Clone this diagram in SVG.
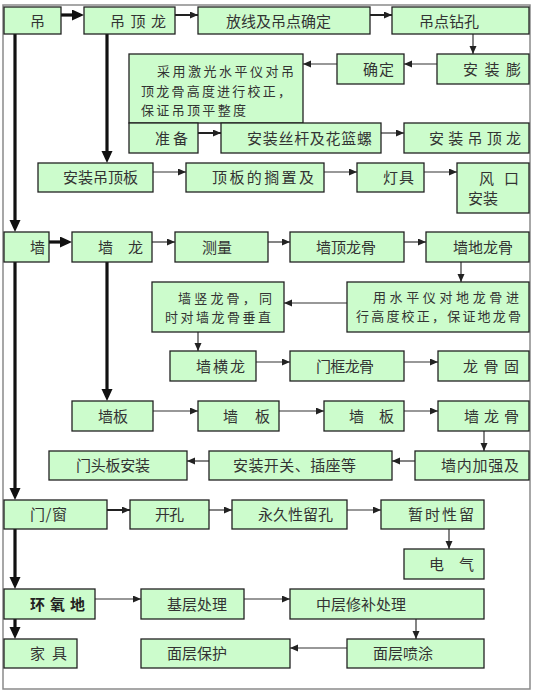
<svg xmlns="http://www.w3.org/2000/svg" width="536" height="695" viewBox="0 0 536 695">
<style>
.b{fill:#ccfccc;stroke:#222;stroke-width:1.3}
.t{font-family:"Noto Sans CJK SC","Noto Sans",sans-serif;font-size:15px;fill:#333}
.s{font-size:13px}
.bold{font-weight:bold;fill:#222}
.c{stroke:#333;stroke-width:1.2;fill:none;marker-end:url(#ah)}
.m{stroke:#222;stroke-width:2;fill:none;marker-end:url(#ah)}
.k{stroke:#111;stroke-width:3.2;fill:none;marker-end:url(#ak)}
</style>
<defs>
<marker id="ah" markerUnits="userSpaceOnUse" markerWidth="9" markerHeight="8" refX="8" refY="3.5" orient="auto"><path d="M0,0 L8,3.5 L0,7 z" fill="#222"/></marker>
<marker id="ak" markerUnits="userSpaceOnUse" markerWidth="13" markerHeight="12" refX="8" refY="5.5" orient="auto"><path d="M0,0 L12,5.5 L0,11 z" fill="#111"/></marker>
</defs>
<rect x="0" y="0" width="536" height="695" fill="#fff"/>
<rect x="3" y="5" width="527" height="684" fill="none" stroke="#8a8a8a" stroke-width="1.5"/>

<g id="connectors">
<line class="k" x1="15" y1="34" x2="15" y2="228"/>
<line class="k" x1="15" y1="262" x2="15" y2="496"/>
<line class="k" x1="15" y1="529" x2="15" y2="585"/>
<line class="k" x1="15" y1="619" x2="15" y2="635"/>
<line class="k" x1="61" y1="15" x2="80" y2="15"/>
<line class="k" x1="107" y1="34" x2="107" y2="159"/>
<line class="k" x1="49" y1="242" x2="68" y2="242"/>
<line class="k" x1="107" y1="262" x2="107" y2="397"/>
<line class="m" x1="175" y1="15" x2="198" y2="15"/>
<line class="m" x1="370" y1="15" x2="392" y2="15"/>
<line class="c" x1="473" y1="34" x2="473" y2="54"/>
<line class="c" x1="437" y1="64" x2="404" y2="64"/>
<line class="c" x1="337" y1="64" x2="303" y2="64"/>
<line class="c" x1="152" y1="105" x2="152" y2="123"/>
<line class="m" x1="198" y1="133" x2="221" y2="133"/>
<line class="c" x1="381" y1="133" x2="404" y2="133"/>
<line class="c" x1="153" y1="172" x2="186" y2="172"/>
<line class="c" x1="324" y1="172" x2="357" y2="172"/>
<line class="c" x1="424" y1="172" x2="457" y2="172"/>
<line class="c" x1="152" y1="242" x2="175" y2="242"/>
<line class="c" x1="268" y1="242" x2="290" y2="242"/>
<line class="c" x1="404" y1="242" x2="426" y2="242"/>
<line class="c" x1="461" y1="262" x2="461" y2="282"/>
<line class="c" x1="347" y1="303" x2="284" y2="303"/>
<line class="c" x1="198" y1="332" x2="198" y2="351"/>
<line class="c" x1="256" y1="362" x2="290" y2="362"/>
<line class="c" x1="404" y1="362" x2="438" y2="362"/>
<line class="c" x1="153" y1="411" x2="198" y2="411"/>
<line class="c" x1="279" y1="411" x2="324" y2="411"/>
<line class="c" x1="404" y1="411" x2="438" y2="411"/>
<line class="c" x1="484" y1="431" x2="484" y2="451"/>
<line class="c" x1="415" y1="461" x2="392" y2="461"/>
<line class="c" x1="209" y1="461" x2="187" y2="461"/>
<line class="m" x1="107" y1="510" x2="130" y2="510"/>
<line class="c" x1="209" y1="510" x2="232" y2="510"/>
<line class="c" x1="347" y1="510" x2="381" y2="510"/>
<line class="c" x1="449" y1="529" x2="449" y2="549"/>
<line class="c" x1="95" y1="599" x2="141" y2="599"/>
<line class="c" x1="244" y1="599" x2="290" y2="599"/>
<line class="c" x1="416" y1="619" x2="416" y2="639"/>
<line class="c" x1="347" y1="648" x2="290" y2="648"/>
</g>

<g id="n1"><rect class="b" x="4" y="7" width="57" height="27"/><text class="t" x="30" y="26.5">吊</text></g>
<g id="n2"><rect class="b" x="84" y="7" width="91" height="27"/><text class="t" x="110" y="26.5" textLength="56" lengthAdjust="spacing">吊顶龙</text></g>
<g id="n3"><rect class="b" x="198" y="7" width="172" height="27"/><text class="t" x="226" y="26.5" textLength="105" lengthAdjust="spacing">放线及吊点确定</text></g>
<g id="n4"><rect class="b" x="392" y="7" width="137" height="27"/><text class="t" x="419" y="26.5" textLength="60" lengthAdjust="spacing">吊点钻孔</text></g>
<g id="n5"><rect class="b" x="129" y="54" width="174" height="69"/>
<text class="t s" x="157" y="76" textLength="137" lengthAdjust="spacing">采用激光水平仪对吊</text>
<text class="t s" x="141" y="95.5" textLength="150" lengthAdjust="spacing">顶龙骨高度进行校正，</text>
<text class="t s" x="141" y="115" textLength="105" lengthAdjust="spacing">保证吊顶平整度</text></g>
<g id="n6"><rect class="b" x="337" y="54" width="67" height="30"/><text class="t" x="363" y="74.5" textLength="31" lengthAdjust="spacing">确定</text></g>
<g id="n7"><rect class="b" x="437" y="54" width="92" height="30"/><text class="t" x="463" y="74.5" textLength="58" lengthAdjust="spacing">安装膨</text></g>
<g id="n8"><rect class="b" x="129" y="123" width="69" height="30"/><text class="t" x="155" y="143.5" textLength="33" lengthAdjust="spacing">准备</text></g>
<g id="n9"><rect class="b" x="221" y="123" width="160" height="30"/><text class="t" x="247" y="143.5" textLength="125" lengthAdjust="spacing">安装丝杆及花篮螺</text></g>
<g id="n10"><rect class="b" x="404" y="123" width="125" height="30"/><text class="t" x="429" y="143.5" textLength="92" lengthAdjust="spacing">安装吊顶龙</text></g>
<g id="n11"><rect class="b" x="38" y="163" width="115" height="29"/><text class="t" x="63" y="182.5" textLength="75" lengthAdjust="spacing">安装吊顶板</text></g>
<g id="n12"><rect class="b" x="186" y="163" width="138" height="29"/><text class="t" x="212" y="182.5" textLength="102" lengthAdjust="spacing">顶板的搁置及</text></g>
<g id="n13"><rect class="b" x="357" y="163" width="67" height="29"/><text class="t" x="383" y="182.5" textLength="31" lengthAdjust="spacing">灯具</text></g>
<g id="n14"><rect class="b" x="457" y="163" width="72" height="50"/><text class="t" x="479" y="183.5" textLength="40" lengthAdjust="spacing">风口</text><text class="t" x="468" y="204" textLength="30" lengthAdjust="spacing">安装</text></g>
<g id="n15"><rect class="b" x="4" y="232" width="45" height="30"/><text class="t" x="30" y="252.5">墙</text></g>
<g id="n16"><rect class="b" x="72" y="232" width="80" height="30"/><text class="t" x="98" y="252.5" textLength="45" lengthAdjust="spacing">墙龙</text></g>
<g id="n17"><rect class="b" x="175" y="232" width="93" height="30"/><text class="t" x="202" y="252.5" textLength="30" lengthAdjust="spacing">测量</text></g>
<g id="n18"><rect class="b" x="290" y="232" width="114" height="30"/><text class="t" x="316" y="252.5" textLength="60" lengthAdjust="spacing">墙顶龙骨</text></g>
<g id="n19"><rect class="b" x="426" y="232" width="103" height="30"/><text class="t" x="453" y="252.5" textLength="60" lengthAdjust="spacing">墙地龙骨</text></g>
<g id="n20"><rect class="b" x="152" y="282" width="132" height="50"/><text class="t s" x="178" y="302.5" textLength="94" lengthAdjust="spacing">墙竖龙骨，同</text><text class="t s" x="165" y="322" textLength="106" lengthAdjust="spacing">时对墙龙骨垂直</text></g>
<g id="n21"><rect class="b" x="347" y="282" width="182" height="50"/><text class="t s" x="373" y="301.5" textLength="146" lengthAdjust="spacing">用水平仪对地龙骨进</text><text class="t s" x="356" y="321" textLength="165" lengthAdjust="spacing">行高度校正，保证地龙骨</text></g>
<g id="n22"><rect class="b" x="170" y="351" width="86" height="30"/><text class="t" x="196" y="371.5" textLength="49" lengthAdjust="spacing">墙横龙</text></g>
<g id="n23"><rect class="b" x="290" y="351" width="114" height="30"/><text class="t" x="316" y="371.5" textLength="58" lengthAdjust="spacing">门框龙骨</text></g>
<g id="n24"><rect class="b" x="438" y="351" width="91" height="30"/><text class="t" x="463" y="371.5" textLength="56" lengthAdjust="spacing">龙骨固</text></g>
<g id="n25"><rect class="b" x="72" y="401" width="81" height="30"/><text class="t" x="98" y="421.5" textLength="30" lengthAdjust="spacing">墙板</text></g>
<g id="n26"><rect class="b" x="198" y="401" width="81" height="30"/><text class="t" x="223" y="421.5" textLength="47" lengthAdjust="spacing">墙板</text></g>
<g id="n27"><rect class="b" x="324" y="401" width="80" height="30"/><text class="t" x="349" y="421.5" textLength="45" lengthAdjust="spacing">墙板</text></g>
<g id="n28"><rect class="b" x="438" y="401" width="91" height="30"/><text class="t" x="464" y="421.5" textLength="55" lengthAdjust="spacing">墙龙骨</text></g>
<g id="n29"><rect class="b" x="49" y="451" width="138" height="29"/><text class="t" x="76" y="470.5" textLength="74" lengthAdjust="spacing">门头板安装</text></g>
<g id="n30"><rect class="b" x="209" y="451" width="183" height="29"/><text class="t" x="233" y="470.5" textLength="123" lengthAdjust="spacing">安装开关、插座等</text></g>
<g id="n31"><rect class="b" x="415" y="451" width="114" height="29"/><text class="t" x="441" y="470.5" textLength="78" lengthAdjust="spacing">墙内加强及</text></g>
<g id="n32"><rect class="b" x="4" y="500" width="103" height="29"/><text class="t" x="30" y="519.5" textLength="37" lengthAdjust="spacing">门/窗</text></g>
<g id="n33"><rect class="b" x="130" y="500" width="79" height="29"/><text class="t" x="155" y="519.5" textLength="29" lengthAdjust="spacing">开孔</text></g>
<g id="n34"><rect class="b" x="232" y="500" width="115" height="29"/><text class="t" x="258" y="519.5" textLength="75" lengthAdjust="spacing">永久性留孔</text></g>
<g id="n35"><rect class="b" x="381" y="500" width="103" height="29"/><text class="t" x="408" y="519.5" textLength="66" lengthAdjust="spacing">暂时性留</text></g>
<g id="n36"><rect class="b" x="404" y="549" width="80" height="30"/><text class="t" x="429" y="569.5" textLength="45" lengthAdjust="spacing">电气</text></g>
<g id="n37"><rect class="b" x="4" y="589" width="91" height="30"/><text class="t bold" x="30" y="609.5" textLength="55" lengthAdjust="spacing">环氧地</text></g>
<g id="n38"><rect class="b" x="141" y="589" width="103" height="30"/><text class="t" x="167" y="609.5" textLength="60" lengthAdjust="spacing">基层处理</text></g>
<g id="n39"><rect class="b" x="290" y="589" width="194" height="30"/><text class="t" x="316" y="609.5" textLength="90" lengthAdjust="spacing">中层修补处理</text></g>
<g id="n40"><rect class="b" x="4" y="639" width="73" height="29"/><text class="t" x="30" y="658.5" textLength="37" lengthAdjust="spacing">家具</text></g>
<g id="n41"><rect class="b" x="141" y="639" width="149" height="29"/><text class="t" x="167" y="658.5" textLength="60" lengthAdjust="spacing">面层保护</text></g>
<g id="n42"><rect class="b" x="347" y="639" width="137" height="29"/><text class="t" x="373" y="658.5" textLength="60" lengthAdjust="spacing">面层喷涂</text></g>
</svg>
